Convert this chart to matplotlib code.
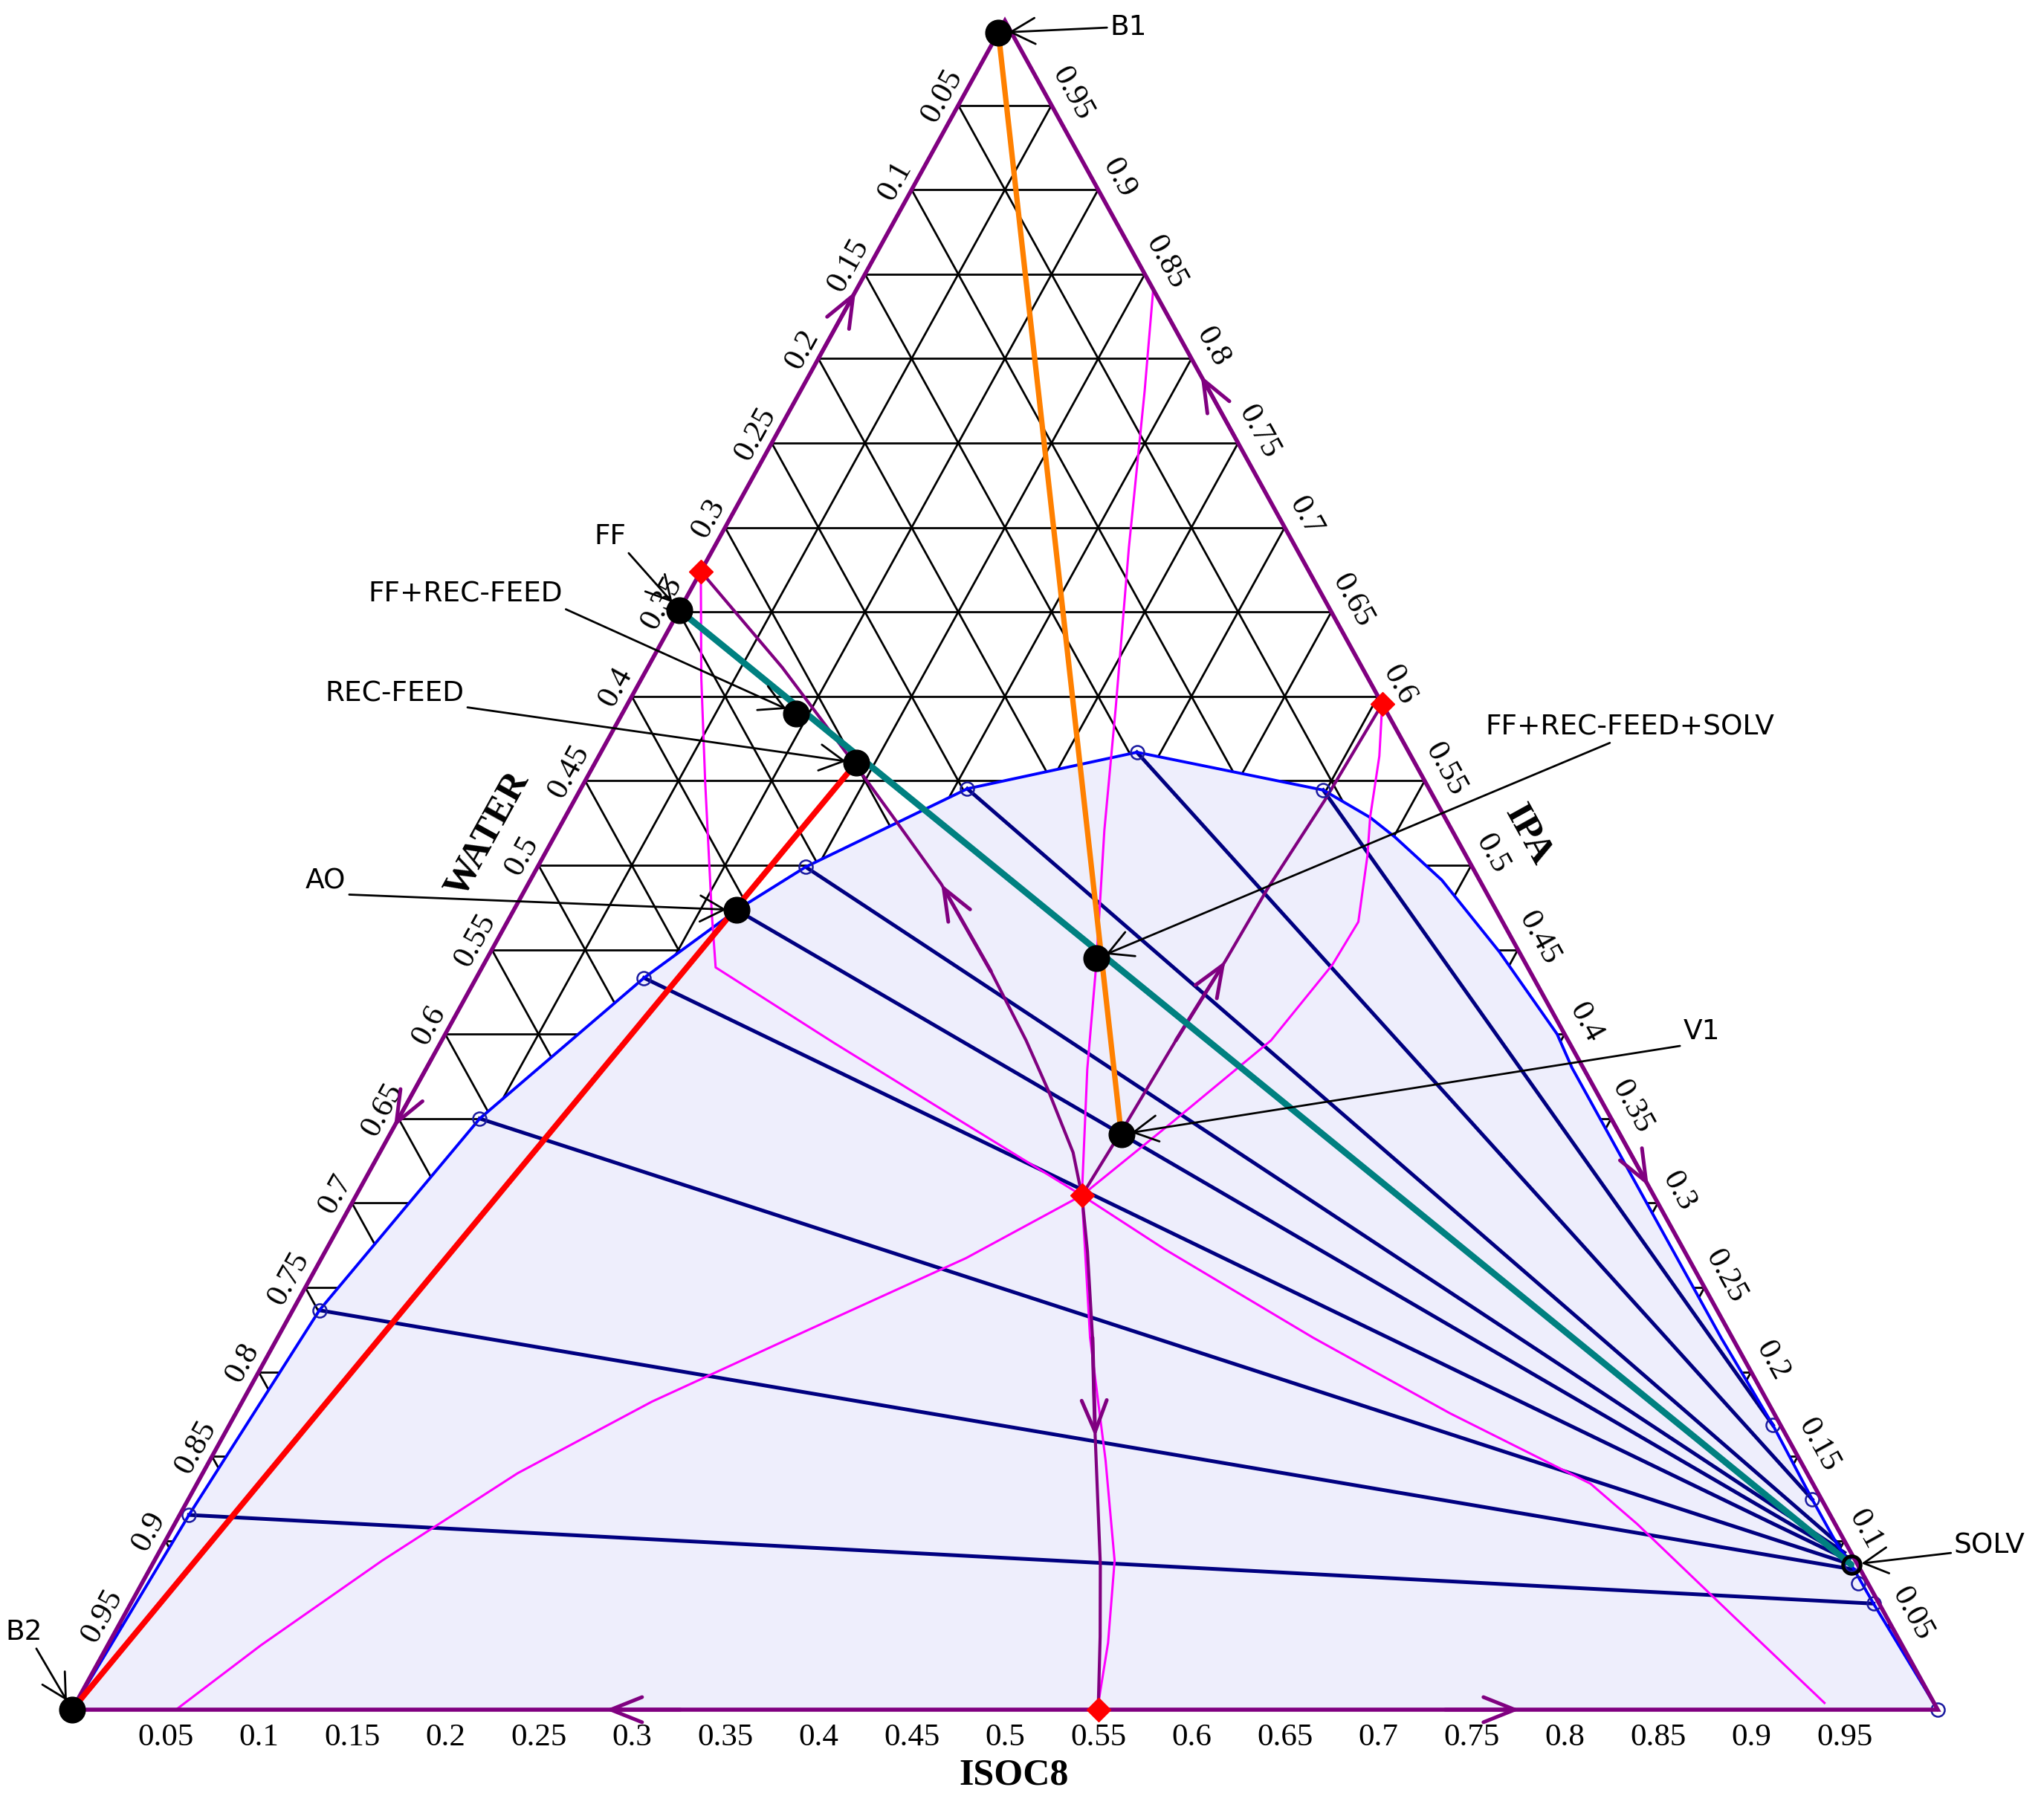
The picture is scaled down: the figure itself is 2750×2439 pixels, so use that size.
import numpy as np
import matplotlib.pyplot as plt

# compositions are (IPA, ISOC8) mole fractions; WATER = 1 - IPA - ISOC8
tick_values = [0.05, 0.1, 0.15, 0.2, 0.25, 0.3, 0.35, 0.4, 0.45, 0.5,
               0.55, 0.6, 0.65, 0.7, 0.75, 0.8, 0.85, 0.9, 0.95]
tick_labels = ['0.05', '0.1', '0.15', '0.2', '0.25', '0.3', '0.35', '0.4', '0.45', '0.5',
               '0.55', '0.6', '0.65', '0.7', '0.75', '0.8', '0.85', '0.9', '0.95']

# liquid-liquid envelope
binodal_ipa = [0.0, 0.1153, 0.2365, 0.35, 0.4333, 0.4735, 0.499, 0.5453, 0.5669, 0.5445,
               0.5283, 0.5167, 0.4912, 0.4488, 0.40, 0.38, 0.30, 0.22, 0.1685, 0.1245,
               0.0974, 0.0859, 0.0628, 0.0]
binodal_isoc8 = [0.0, 0.005, 0.0143, 0.0435, 0.0899, 0.1195, 0.1437, 0.2072, 0.2873, 0.3984,
                 0.4316, 0.4507, 0.4886, 0.5406, 0.596, 0.614, 0.694, 0.774, 0.8274, 0.8705,
                 0.8976, 0.9107, 0.9342, 1.0]

# tie lines
tie_left_ipa = [0.1153, 0.2365, 0.35, 0.4333, 0.4735, 0.499, 0.5453, 0.5669, 0.5445]
tie_left_isoc8 = [0.005, 0.0143, 0.0435, 0.0899, 0.1195, 0.1437, 0.2072, 0.2873, 0.3984]
tie_right_ipa = [0.0628, 0.0830, 0.0860, 0.0885, 0.0905, 0.0930, 0.0974, 0.1245, 0.1685]
tie_right_isoc8 = [0.9342, 0.9135, 0.9106, 0.9080, 0.9060, 0.9035, 0.8990, 0.8705, 0.8274]

circle_ipa = [0.1153, 0.2365, 0.35, 0.4333, 0.499, 0.5453, 0.5669, 0.5445,
              0.1685, 0.1245, 0.0860, 0.075, 0.0628, 0.0]
circle_isoc8 = [0.005, 0.0143, 0.0435, 0.0899, 0.1437, 0.2072, 0.2873, 0.3984,
                0.8274, 0.8705, 0.9106, 0.9197, 0.9342, 1.0]

# distillation boundaries (purple)
p1_ipa = [0.674, 0.6171, 0.5584, 0.5298, 0.4889, 0.4372, 0.3963, 0.3669, 0.3299, 0.3045]
p1_isoc8 = [0.0, 0.0721, 0.1413, 0.1744, 0.2214, 0.2739, 0.3132, 0.3397, 0.3716, 0.389]
p2_ipa = [0.5955, 0.5383, 0.4858, 0.4434, 0.3963, 0.3461, 0.3045]
p2_isoc8 = [0.4045, 0.4022, 0.3977, 0.3965, 0.3935, 0.3914, 0.389]
p3_ipa = [0.0, 0.0433, 0.0859, 0.1616, 0.2203, 0.2713, 0.3045]
p3_isoc8 = [0.55, 0.5294, 0.5082, 0.4676, 0.4368, 0.4086, 0.389]

# residue curves (magenta)
m1_ipa = [0.674, 0.6109, 0.5491, 0.4719, 0.4395, 0.3947, 0.3523, 0.3045, 0.2728, 0.2203,
          0.1755, 0.1338, 0.1099, 0.055, 0.004]
m1_isoc8 = [0.0, 0.0318, 0.0648, 0.1069, 0.1252, 0.2112, 0.2946, 0.389, 0.449, 0.555,
            0.6508, 0.747, 0.784, 0.8633, 0.9373]
m2_ipa = [0.5955, 0.5646, 0.5283, 0.5059, 0.4665, 0.4411, 0.3963, 0.3484, 0.3045, 0.2674,
          0.2249, 0.1824, 0.14, 0.0882, 0.0381, 0.0]
m2_isoc8 = [0.4045, 0.4184, 0.4316, 0.4414, 0.4562, 0.455, 0.4445, 0.4161, 0.389, 0.3455,
            0.2822, 0.2196, 0.1688, 0.122, 0.0821, 0.0557]
m3_ipa = [0.841, 0.7808, 0.6881, 0.5939, 0.5206, 0.4418, 0.3793, 0.3045, 0.2203, 0.1477,
          0.0882, 0.0396, 0.0015]
m3_isoc8 = [0.159, 0.1845, 0.2224, 0.2625, 0.293, 0.3281, 0.3545, 0.389, 0.4355, 0.4801,
            0.5147, 0.5355, 0.549]

# azeotropes
azeo_ipa = [0.674, 0.5955, 0.0, 0.3045]
azeo_isoc8 = [0.0, 0.4045, 0.55, 0.389]

# streams
stream_names = ['B1', 'B2', 'FF', 'FF+REC-FEED', 'REC-FEED', 'AO',
                'FF+REC-FEED+SOLV', 'V1', 'SOLV']
stream_ipa = [0.993, 0.0, 0.651, 0.590, 0.5607, 0.4735, 0.4449, 0.3407, 0.0859]
stream_isoc8 = [0.0, 0.0, 0.0, 0.093, 0.140, 0.1195, 0.3266, 0.392, 0.9107]

PURPLE = '#800080'
NAVY = '#000080'


def tern(ipa, isoc8):
    ipa = np.asarray(ipa, dtype=float)
    isoc8 = np.asarray(isoc8, dtype=float)
    return isoc8 + 0.5 * ipa, ipa


fig = plt.figure(figsize=(27.5, 24.39), dpi=100)
ax = fig.add_axes([0, 0, 1, 1])
ax.set_xlim(-0.03865, 1.05697)
ax.set_ylim(-0.06118, 1.01232)
ax.axis('off')

# grid
for v in tick_values:
    ax.plot(*tern([v, v], [0, 1 - v]), color='black', lw=2, zorder=1)
    ax.plot(*tern([0, 1 - v], [v, v]), color='black', lw=2, zorder=1)
    ax.plot(*tern([0, 1 - v], [1 - v, 0]), color='black', lw=2, zorder=1)

# two liquid region
bx, by = tern(binodal_ipa, binodal_isoc8)
ax.fill(bx, by, color='#EEEEFC', zorder=2, lw=0)
ax.plot(bx, by, color='#0000FF', lw=2.8, zorder=4)

for li, lc, ri, rc in zip(tie_left_ipa, tie_left_isoc8, tie_right_ipa, tie_right_isoc8):
    ax.plot(*tern([li, ri], [lc, rc]), color=NAVY, lw=3.6, zorder=3)

ax.plot(*tern(circle_ipa, circle_isoc8), 'o', ms=13, mfc='none', mec='#1a1aa0',
        mew=1.8, zorder=6)

# residue curves and boundaries
for ci, cc in [(m1_ipa, m1_isoc8), (m2_ipa, m2_isoc8), (m3_ipa, m3_isoc8)]:
    ax.plot(*tern(ci, cc), color='#FF00FF', lw=2.2, zorder=5)
for ci, cc in [(p1_ipa, p1_isoc8), (p2_ipa, p2_isoc8), (p3_ipa, p3_isoc8)]:
    ax.plot(*tern(ci, cc), color=PURPLE, lw=3, zorder=5)

# triangle edges
ax.plot(*tern([0, 1, 0, 0], [0, 0, 1, 0]), color=PURPLE, lw=4, zorder=7,
        solid_joinstyle='miter')

arrow_kw = dict(arrowstyle='->,head_length=0.8,head_width=0.32', color=PURPLE,
                lw=3.6, shrinkA=0, shrinkB=0, mutation_scale=38)
# edge arrows: (tip, tail)
edge_arrows = [((0.84, 0.0), (0.80, 0.0)), ((0.345, 0.0), (0.385, 0.0)),
               ((0.79, 0.21), (0.75, 0.25)), ((0.31, 0.69), (0.35, 0.65)),
               ((0.0, 0.286), (0.0, 0.326)), ((0.0, 0.776), (0.0, 0.736))]
for tip, tail in edge_arrows:
    ax.annotate('', xy=tern(*tip), xytext=tern(*tail), arrowprops=arrow_kw, zorder=7)
for ci, cc, k_tip, k_tail in [(p1_ipa, p1_isoc8, 4, 5), (p2_ipa, p2_isoc8, 3, 4),
                              (p3_ipa, p3_isoc8, 3, 4)]:
    ax.annotate('', xy=tern(ci[k_tip], cc[k_tip]), xytext=tern(ci[k_tail], cc[k_tail]),
                arrowprops=arrow_kw, zorder=7)

# mass balance lines
s = dict(zip(stream_names, zip(stream_ipa, stream_isoc8)))
ax.plot(*tern([s['FF'][0], s['SOLV'][0]], [s['FF'][1], s['SOLV'][1]]),
        color='#008080', lw=6.2, zorder=8, solid_capstyle='round')
ax.plot(*tern([s['B2'][0], s['REC-FEED'][0]], [s['B2'][1], s['REC-FEED'][1]]),
        color='#FF0000', lw=5.6, zorder=8)
ax.plot(*tern([s['B1'][0], s['V1'][0]], [s['B1'][1], s['V1'][1]]),
        color='#FF8000', lw=5.2, zorder=9)

ax.plot(*tern(azeo_ipa, azeo_isoc8), 'D', ms=16, color='#FF0000', zorder=9)

dots = [n for n in stream_names if n != 'SOLV']
ax.plot(*tern([s[n][0] for n in dots], [s[n][1] for n in dots]), 'o', ms=25,
        color='black', zorder=10)
ax.plot(*tern(*s['SOLV']), 'o', ms=17, mfc='none', mec='black', mew=3.5, zorder=10)

# stream labels
label_offsets = [(126, 5), (-47, 75), (-67, 71), (-320, 115), (-447, 67), (-398, 28),
                 (517, 224), (562, 99), (134, 18)]
label_relpos = [(0, 0.5), (0.8, 0), (1, 0), (1, 0), (1, 0), (1, 0),
                (0.45, 0), (0, 0), (0.15, 0.3)]
for name, off, rp in zip(stream_names, label_offsets, label_relpos):
    ax.annotate(name, xy=tern(*s[name]), xytext=off, textcoords='offset points',
                ha='center', va='center', fontsize=27, family='DejaVu Sans',
                arrowprops=dict(arrowstyle='->,head_length=0.65,head_width=0.35',
                                color='black', lw=2.0, relpos=rp, shrinkA=1,
                                shrinkB=10, mutation_scale=36),
                zorder=11)

# tick labels
ang = np.degrees(np.arctan2(2272, 1255))
nl = np.array([-np.sin(np.radians(ang)), np.cos(np.radians(ang))])
nr = np.array([np.sin(np.radians(ang)), np.cos(np.radians(ang))])
serif = 'Liberation Serif'
for v, t in zip(tick_values, tick_labels):
    ax.annotate(t, xy=tern(1 - v, 0), xytext=tuple(18 * nl), textcoords='offset points',
                ha='center', va='center', rotation=ang, fontsize=31, family=serif)
    ax.annotate(t, xy=tern(v, 1 - v), xytext=tuple(23 * nr), textcoords='offset points',
                ha='center', va='center', rotation=-ang, fontsize=31, family=serif)
    ax.annotate(t, xy=tern(0, v), xytext=(0, -27), textcoords='offset points',
                ha='center', va='center', fontsize=31, family=serif)

ax.text(*tern(0.518, -0.036), 'WATER', ha='center', va='center', rotation=ang,
        fontsize=37, family=serif, fontweight='bold')
ax.text(*tern(0.518, 0.521), 'IPA', ha='center', va='center', rotation=-ang,
        fontsize=37, family=serif, fontweight='bold')
ax.annotate('ISOC8', xy=tern(0, 0.505), xytext=(0, -64), textcoords='offset points',
            ha='center', va='center', fontsize=36, family=serif, fontweight='bold')

fig.savefig('out.png', dpi=100)
